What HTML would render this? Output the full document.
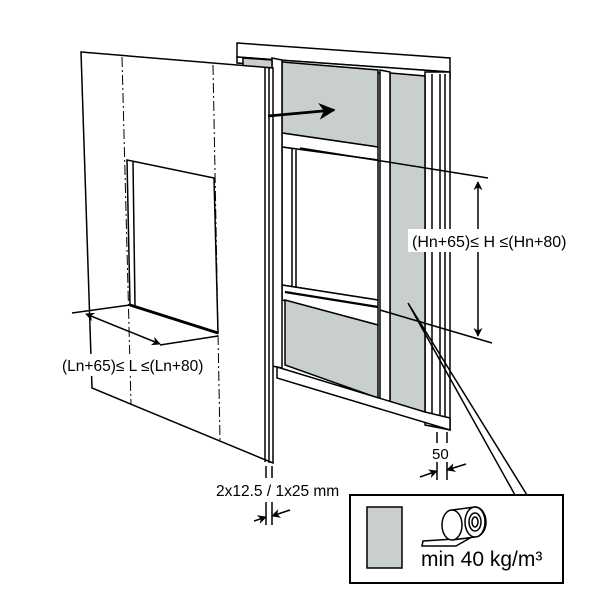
<!DOCTYPE html>
<html><head><style>
html,body{margin:0;padding:0;background:#fff;}
svg{display:block;}
text{font-family:"Liberation Sans",sans-serif;fill:#000;}
</style></head><body>
<svg width="600" height="600" viewBox="0 0 600 600" xmlns="http://www.w3.org/2000/svg">
<defs>
<marker id="ah" viewBox="0 0 10 10" refX="9" refY="5" markerWidth="6" markerHeight="6" orient="auto-start-reverse">
<path d="M0,0 L10,5 L0,10 L3,5 Z" fill="#000"/>
</marker>
</defs>
<g stroke="#000" stroke-width="1.5" fill="none">
<polygon points="237,43 450,58 450,72 237,57" fill="#fff"/>
<polygon points="237,57 450,72 450,78 237,63" fill="#fff"/>
<polygon points="425,72 450,72 450,430 425,425" fill="#fff"/>
<line x1="432" y1="74" x2="432" y2="426"/>
<line x1="440" y1="74" x2="440" y2="428"/>
<line x1="445" y1="74" x2="445" y2="429"/>
<polygon points="390,73 425,76 425,412 390,407" fill="#c8cfcd"/>
<polygon points="380,70 390,72 390,408 380,404" fill="#fff"/>
<polygon points="282,62 378,70 378,147 282,133" fill="#c8cfcd"/>
<polygon points="282,133 378,147 378,160 282,147" fill="#fff"/>
<polygon points="282,147 378,160 378,300 282,285" fill="#fff"/>
<line x1="292" y1="149" x2="292" y2="286"/>
<line x1="296" y1="150" x2="296" y2="287"/>
<polygon points="282,285 378,300 378,325 282,300" fill="#fff"/>
<line x1="285" y1="292" x2="378" y2="307" stroke-width="2.2"/>
<polygon points="285,300 378,325 378,398 285,365" fill="#c8cfcd"/>
<polygon points="272,58 282,60 282,368 272,366" fill="#fff"/>
<polygon points="243,58 272,60 272,70 243,68" fill="#c8cfcd"/>
<polygon points="277,367 425,412 450,418 450,430 277,378" fill="#fff"/>
<polygon points="81,52 273,68 273,463 92,388" fill="#fff"/>
<line x1="265" y1="68" x2="265" y2="462"/>
<line x1="269" y1="68" x2="269" y2="463"/>
<line x1="122" y1="57" x2="131" y2="404" stroke-dasharray="10,3,2,3" stroke-width="1"/>
<line x1="213" y1="65" x2="220" y2="440" stroke-dasharray="10,3,2,3" stroke-width="1"/>
<polygon points="127,160 214,178 218,333 130,305" fill="#fff"/>
<line x1="133" y1="162" x2="135" y2="306"/>
<line x1="130" y1="305" x2="218" y2="333" stroke-width="3"/>
<line x1="72" y1="313" x2="130" y2="305"/>
<line x1="160" y1="345" x2="218" y2="336"/>
<line x1="86" y1="314" x2="160" y2="344" marker-start="url(#ah)" marker-end="url(#ah)"/>
<line x1="268" y1="116" x2="334" y2="110" stroke-width="2.8" marker-end="url(#ah)"/>
<line x1="300" y1="148" x2="488" y2="178"/>
<line x1="380" y1="310" x2="492" y2="343"/>
<line x1="478" y1="182" x2="478" y2="336" marker-start="url(#ah)" marker-end="url(#ah)"/>
<polyline points="515,495 408,303 527,495" stroke-width="1.5"/>
<line x1="266" y1="466" x2="266" y2="478"/><line x1="272" y1="466" x2="272" y2="478"/>
<line x1="266" y1="502" x2="266" y2="525"/><line x1="272" y1="502" x2="272" y2="525"/>
<line x1="254" y1="521" x2="266" y2="517" marker-end="url(#ah)"/>
<line x1="290" y1="510" x2="272" y2="516" marker-end="url(#ah)"/>
<line x1="437" y1="432" x2="437" y2="443"/><line x1="447" y1="432" x2="447" y2="443"/>
<line x1="437" y1="462" x2="437" y2="480"/><line x1="447" y1="462" x2="447" y2="480"/>
<line x1="420" y1="477" x2="437" y2="471" marker-end="url(#ah)"/>
<line x1="466" y1="464" x2="447" y2="470" marker-end="url(#ah)"/>
<rect x="350" y="495" width="213" height="88" fill="#fff" stroke-width="2"/>
<rect x="367" y="507" width="35" height="61" fill="#c8cfcd"/>
<path d="M423,541 L470,538 L456,546 L422,546 Z" fill="#fff"/>
<path d="M452,510 L475,507 A11,15 0 0 1 475,537 L452,540" fill="#fff"/>
<ellipse cx="452" cy="525" rx="10" ry="15" fill="#fff"/>
<ellipse cx="475" cy="522" rx="10" ry="15" fill="#fff"/>
<ellipse cx="475" cy="522" rx="6" ry="9"/>
<ellipse cx="475" cy="522" rx="3" ry="5"/>
</g>
<rect x="408" y="229" width="164" height="23" fill="#fff"/>
<text x="412" y="247" font-size="16">(Hn+65)≤ H ≤(Hn+80)</text>
<rect x="60" y="354" width="152" height="22" fill="#fff"/>
<text x="62" y="371" font-size="15.5">(Ln+65)≤ L ≤(Ln+80)</text>
<text x="216" y="496" font-size="15.5">2x12.5 / 1x25 mm</text>
<text x="432" y="459" font-size="15">50</text>
<text x="421" y="566" font-size="21">min 40 kg/m³</text>
</svg>
</body></html>
